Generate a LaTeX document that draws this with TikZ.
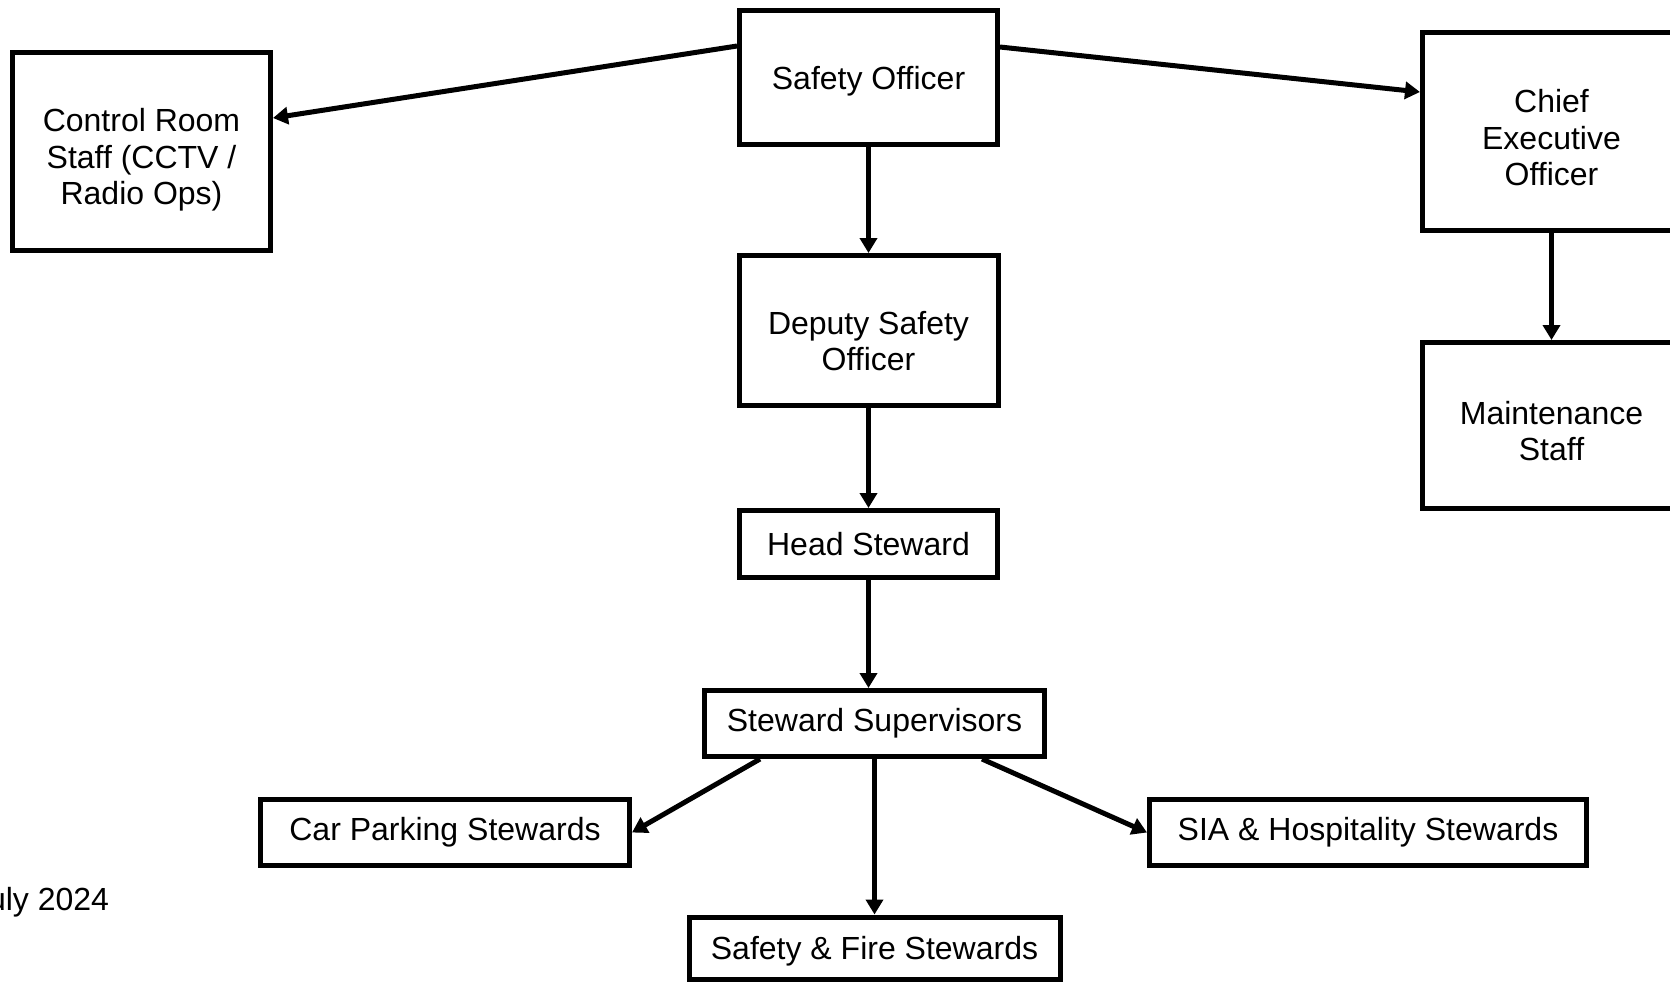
\documentclass[tikz,border=0pt]{standalone}
\usepackage{fontspec}
\setmainfont{Liberation Sans}
\usetikzlibrary{positioning,arrows.meta}
\newcommand{\toplift}[1]{\rule{0pt}{#1}}

\begin{document}
\begin{tikzpicture}[x=0.5pt, y=-0.5pt,
  box/.style={draw, rectangle, line width=2.5pt, align=center, inner sep=0pt,
    font=\fontsize{16}{18.25}\selectfont},
  link/.style={line width=2.5pt, -{Triangle[length=7.5pt,width=8.5pt]}}]
\useasboundingbox (0,0) rectangle (1670,981);
\fill[white] (0,0) rectangle (1670,981);
\clip (0,0) rectangle (1670,981);

% Nodes
\node[box, minimum width=129pt, minimum height=67pt, text depth=0pt] (officer) at (868.5,77.5) {Safety Officer};
\node[box, minimum width=129pt, minimum height=99pt] (control) at (141.5,151.5) {\toplift{20.2pt}Control Room\\Staff (CCTV /\\Radio Ops)};
\node[box, minimum width=129pt, minimum height=99pt] (chief) at (1551.5,131.5) {\toplift{18.1pt}Chief\\Executive\\Officer};
\node[box, minimum width=129pt, minimum height=83pt, below=53.5pt of chief] (maint) {\toplift{17pt}Maintenance\\Staff};
\node[box, minimum width=129.5pt, minimum height=75pt, below=53pt of officer] (deputy) {\toplift{22.3pt}Deputy Safety\\Officer};
\node[box, minimum width=129pt, minimum height=33.5pt, below=50pt of deputy] (head) {Head Steward};
\node[box, minimum width=170pt, minimum height=33pt, below=54pt of head, xshift=3pt] (super) {Steward Supervisors};
\node[box, minimum width=184.5pt, minimum height=33pt, below left=19pt and 35pt of super] (parking) {Car Parking Stewards};
\node[box, minimum width=218.5pt, minimum height=33pt, below right=19pt and 50pt of super] (sia) {SIA \& Hospitality Stewards};
\node[box, minimum width=185.5pt, minimum height=31pt, text depth=0pt, below=77.75pt of super] (fire) {Safety \& Fire Stewards};
\node[anchor=base west, font=\fontsize{16}{18.25}\selectfont] (date) at (-35,910) {July 2024};

% Arrows
\draw[link] ([yshift=15.75pt]officer.west) -- ([yshift=16.75pt]control.east);
\draw[link] ([yshift=15.25pt]officer.east) -- ([yshift=19.75pt]chief.west);
\draw[link] (chief) -- (maint);
\draw[link] (officer) -- (deputy);
\draw[link] (deputy) -- (head);
\draw[link] (head) -- (head |- super.north);
\draw[link] ([xshift=-57.25pt]super.south) -- (parking.east);
\draw[link] (super) -- (super |- fire.north);
\draw[link] ([xshift=53.75pt]super.south) -- (sia.west);
\end{tikzpicture}
\end{document}
